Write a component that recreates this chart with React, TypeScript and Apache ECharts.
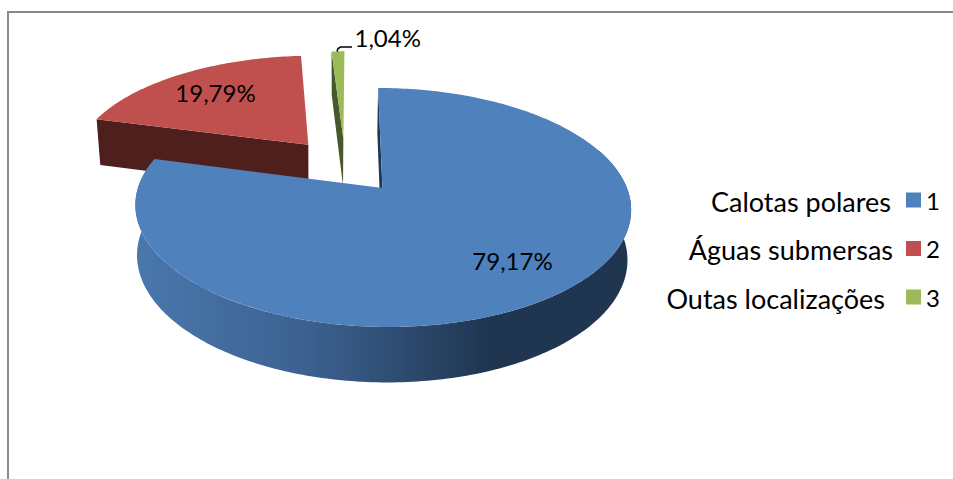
import React, { useEffect, useRef } from "react";
import * as echarts from "echarts";

const legendKeys = ["1", "2", "3"];
const legendCaptions = ["Calotas polares", "Águas submersas", "Outas localizações"];
const sliceValues = [79.17, 19.79, 1.04];
const sliceLabels = ["79,17%", "19,79%", "1,04%"];
const topColors = ["#4f81bd", "#c0504d", "#9bbb59"];
const wallColors = ["#1f3550", "#4f1f1e", "#47582a"];

const FONT = "Lato, Carlito, sans-serif";
const LABEL_SIZE = 24;
const CAPTION_SIZE = 27;
const EXPLODE = 0.253;
const ORIGIN = { x: 382.4, y: 188 };
const R = 244.5, H = 116.3, K = 0.163, SHEAR = -5, SHEARZ = -1;
const labelAnchors = [
  { x: 512.5, y: 260, align: "center" },
  { x: 215.5, y: 92, align: "center" },
  { x: 354.5, y: 37, align: "left" },
];
const legendCaptionRight = [891, 893, 885];
const legendY = [201, 249, 298];

const total = sliceValues.reduce((a, b) => a + b, 0);
const rad = (deg: number) => (deg * Math.PI) / 180;
const ranges = sliceValues.map((_, i) => {
  const start = (sliceValues.slice(0, i).reduce((a, b) => a + b, 0) / total) * 360;
  return [start, start + (sliceValues[i] / total) * 360];
});
const midDir = (i: number) => {
  const m = rad((ranges[i][0] + ranges[i][1]) / 2);
  return [Math.sin(m), Math.cos(m)];
};
const apexOf = (i: number) => {
  const a = midDir(i), b = midDir(0);
  return [EXPLODE * (a[0] - b[0]), EXPLODE * (a[1] - b[1])];
};
const project = (u: number, v: number, z: number) => {
  const w = 1 + K * v + (0.012 + 0.009 * v) * z;
  const depth = 49 + 2 * v;
  return [ORIGIN.x + (R * u + SHEAR * v + SHEARZ * z) / w, ORIGIN.y + (-H * v + depth * z) / w];
};
const rimPoint = (i: number, deg: number, z: number) => {
  const a = apexOf(i);
  return project(a[0] + Math.sin(rad(deg)), a[1] + Math.cos(rad(deg)), z);
};
const arcPoints = (i: number, from: number, to: number, z: number) => {
  const pts: number[][] = [];
  const n = Math.max(2, Math.ceil(Math.abs(to - from)));
  for (let s = 0; s <= n; s++) pts.push(rimPoint(i, from + ((to - from) * s) / n, z));
  return pts;
};

const makeRenderItem = (i: number) => (_params: any, api: any) => {
  const share = (api.value(0) / total) * 360;
  const start = ranges[i][0];
  const end = start + share;
  const base = (3 - i) * 10;
  const a = apexOf(i);
  const children: any[] = [];

  const from = Math.max(start, 70);
  const to = Math.min(end, 285);
  if (to > from) {
    const pts = [...arcPoints(i, from, to, 0), ...arcPoints(i, to, from, 1)];
    children.push({
      type: "polygon",
      z2: base,
      shape: { points: pts },
      style: {
        fill: new echarts.graphic.LinearGradient(0, 0, 1, 0, [
          { offset: 0, color: "#4a78ad" },
          { offset: 0.35, color: "#3c6190" },
          { offset: 0.72, color: "#1f3550" },
          { offset: 1, color: "#1f3550" },
        ]),
      },
    });
  }
  children.push({
    type: "polygon",
    z2: base + 1,
    shape: {
      points: [project(a[0], a[1], 0), rimPoint(i, start, 0), rimPoint(i, start, 1), project(a[0], a[1], 1)],
    },
    style: { fill: wallColors[i] },
  });
  children.push({
    type: "polygon",
    z2: base + 2,
    shape: { points: [project(a[0], a[1], 0), ...arcPoints(i, start, end, 0)] },
    style: { fill: topColors[i] },
  });
  children.push({
    type: "text",
    z2: 100,
    style: {
      text: sliceLabels[i],
      x: labelAnchors[i].x,
      y: labelAnchors[i].y,
      textAlign: labelAnchors[i].align,
      textVerticalAlign: "middle",
      font: `${LABEL_SIZE}px ${FONT}`,
      fill: "#000000",
    },
  });
  if (i === 2) {
    children.push({
      type: "polyline",
      z2: 100,
      shape: { points: [[337, 51.5], [338, 48.5], [340.5, 47], [352, 47]] },
      style: { stroke: "#000000", lineWidth: 1.5, fill: "none" },
    });
  }
  return { type: "group", children };
};

export default function App() {
  const ref = useRef<HTMLDivElement>(null);
  useEffect(() => {
    document.body.style.margin = "0";
    const chart = echarts.init(ref.current!, undefined, { renderer: "svg" });
    chart.setOption({
      animation: false,
      backgroundColor: "#ffffff",
      legend: {
        data: legendKeys,
        orient: "vertical",
        left: 906,
        top: 188,
        icon: "rect",
        itemWidth: 15,
        itemHeight: 15,
        itemGap: 24.5,
        padding: 0,
        selectedMode: false,
        textStyle: { fontFamily: FONT, fontSize: LABEL_SIZE, color: "#000000", lineHeight: 22 },
      },
      graphic: [
        {
          type: "polyline",
          silent: true,
          shape: { points: [[953, 12], [8, 12], [8, 479]] },
          style: { stroke: "#8a8a8a", lineWidth: 2, fill: "none" },
        },
        ...legendCaptions.map((t, i) => ({
          type: "text",
          silent: true,
          style: {
            text: t,
            x: legendCaptionRight[i],
            y: legendY[i],
            textAlign: "right",
            textVerticalAlign: "middle",
            font: `${CAPTION_SIZE}px ${FONT}`,
            fill: "#000000",
          },
        })),
      ],
      series: sliceValues.map((v, i) => ({
        type: "custom",
        name: legendKeys[i],
        coordinateSystem: "none",
        silent: true,
        clip: false,
        itemStyle: { color: topColors[i] },
        data: [[v]],
        renderItem: makeRenderItem(i),
      })),
    });
    return () => chart.dispose();
  }, []);
  return <div ref={ref} style={{ width: 953, height: 479 }} />;
}
